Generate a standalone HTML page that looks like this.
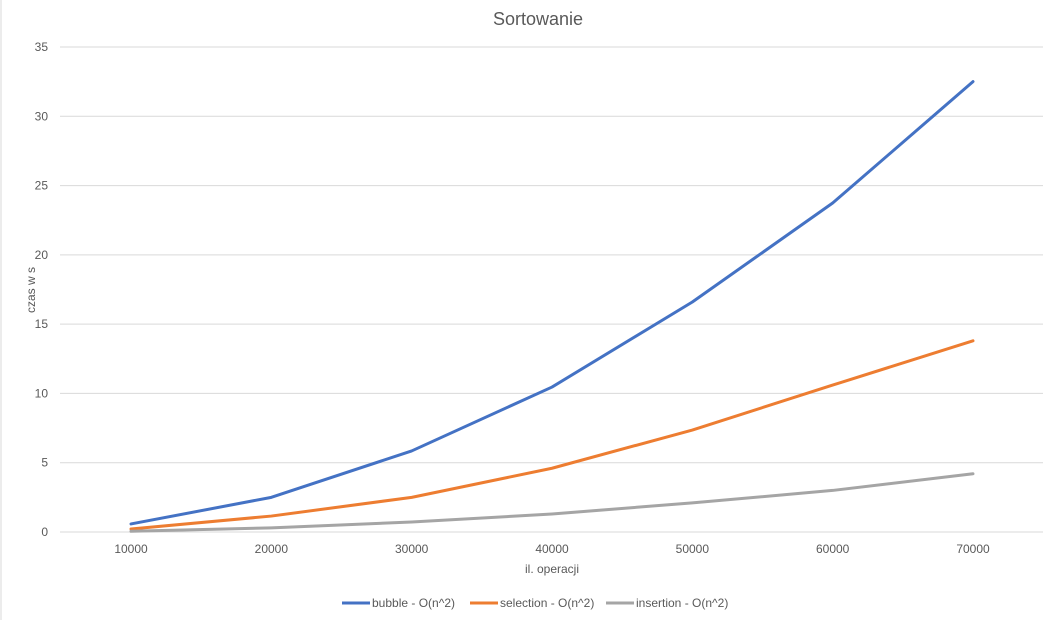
<!DOCTYPE html>
<html><head><meta charset="utf-8"><style>
body{margin:0;background:#fff;font-family:"Liberation Sans",sans-serif}
svg{display:block}
</style></head><body>
<svg id="chart" width="1056" height="620">
<rect x="0.5" y="-1" width="1" height="622" fill="#d9d9d9"/>
<text x="538" y="25" text-anchor="middle" font-size="18" fill="#595959">Sortowanie</text>
<g id="grid"></g><g id="series"></g>
<text x="552" y="573" text-anchor="middle" font-size="12" fill="#595959">il. operacji</text>
<text transform="translate(35,290) rotate(-90)" text-anchor="middle" font-size="12" fill="#595959">czas w s</text>
<g id="legend"></g>
</svg>
<script>
const categories=[10000,20000,30000,40000,50000,60000,70000];
const bubble=[0.58,2.5,5.85,10.46,16.6,23.74,32.5];
const selection=[0.22,1.15,2.5,4.6,7.36,10.6,13.8];
const insertion=[0.05,0.3,0.72,1.3,2.1,3.0,4.2];
const yTicks=[0,5,10,15,20,25,30,35];
const names=["bubble - O(n^2)","selection - O(n^2)","insertion - O(n^2)"];
const colors=["#4472c4","#ed7d31","#a5a5a5"];
const NS="http://www.w3.org/2000/svg";
const y=v=>532-v*(485/35);
const x=i=>131+i*(842/6);
function mk(t,a,p){const e=document.createElementNS(NS,t);for(const k in a)e.setAttribute(k,a[k]);p.appendChild(e);return e;}
const grid=document.getElementById('grid');
yTicks.forEach(t=>{
 const l=mk('line',{x1:60,x2:1043,y1:y(t),y2:y(t),stroke:'#d9d9d9','stroke-width':1},grid);
 
 
 const tx=mk('text',{x:48,y:y(t)+4,'text-anchor':'end','font-size':12,fill:'#595959'},grid);
 tx.textContent=t;
 
 
});
categories.forEach((c,i)=>{
 const tx=mk('text',{x:x(i),y:553,'text-anchor':'middle','font-size':12,fill:'#595959'},grid);
 tx.textContent=c;
 
 
});
const sg=document.getElementById('series');
[bubble,selection,insertion].forEach((d,s)=>{
 const p=mk('polyline',{points:d.map((v,i)=>x(i)+','+y(v)).join(' '),fill:'none',stroke:colors[s],'stroke-width':3,'stroke-linejoin':'round','stroke-linecap':'round'},sg);
 
 
});
const lg=document.getElementById('legend');
const lx=[342,470,606];
names.forEach((n,s)=>{
 const l=mk('line',{x1:lx[s],x2:lx[s]+28,y1:603,y2:603,stroke:colors[s],'stroke-width':3},lg);
 
 
 const t=mk('text',{x:lx[s]+30,y:607,'font-size':12,fill:'#595959'},lg);
 t.textContent=n;
 
 
});
</script>
</body></html>
